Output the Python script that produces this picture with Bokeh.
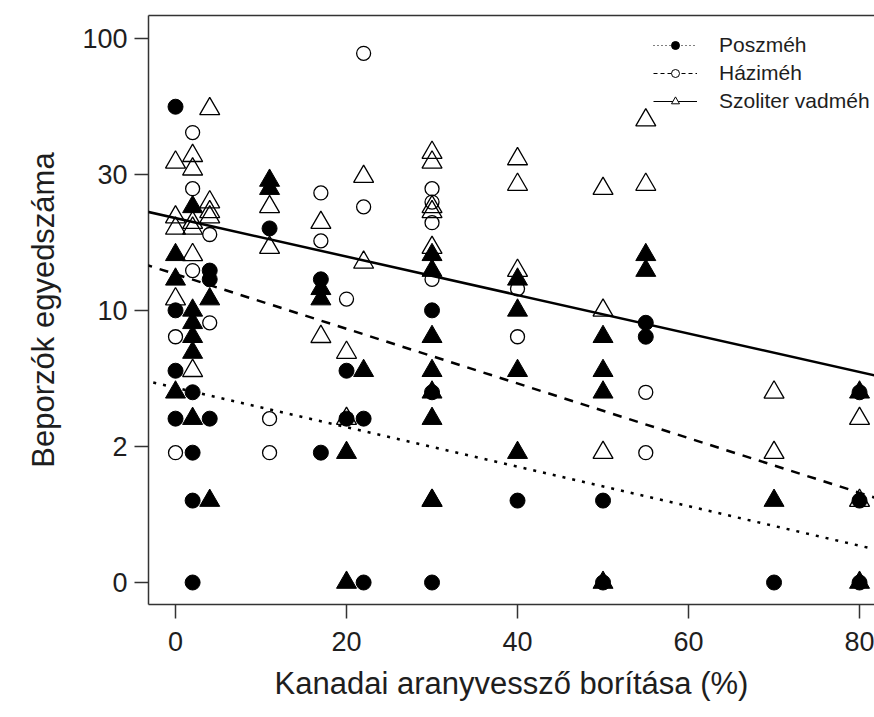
import math
from bokeh.plotting import figure
from bokeh.models import (Range1d, FixedTicker, LinearAxis, Legend, LegendItem,
                          Slope, Title)
from bokeh.embed import file_html
from bokeh.resources import INLINE

# ---------------- data ----------------
x_ticks = [0, 20, 40, 60, 80]
y_tick_pos = [0, 0.5, 1, 1.5, 2]          # position on log10(n+1) scale
y_tick_labels = ["0", "2", "10", "30", "100"]

# Poszméh (filled circles)
posz_x = [0, 0, 0, 0, 2, 2, 2, 2, 4, 4, 4, 11, 17, 17, 20, 20, 22, 22,
          30, 30, 30, 40, 50, 50, 55, 55, 70, 80, 80, 80]
posz_n = [55, 9, 5, 3, 4, 2, 1, 0, 13, 12, 3, 19, 12, 2, 5, 3, 3, 0,
          9, 4, 0, 1, 1, 0, 8, 7, 0, 4, 1, 0]

# Háziméh (open circles)
hazi_x = [0, 0, 2, 2, 2, 4, 4, 11, 11, 17, 17, 20, 22, 22,
          30, 30, 30, 30, 40, 40, 55, 55]
hazi_n = [7, 2, 44, 27, 13, 18, 8, 3, 2, 26, 17, 10, 87, 23,
          27, 24, 20, 12, 11, 7, 4, 2]

# Szoliter vadméh (open triangles)
szol_x = [0, 0, 0, 0, 2, 2, 2, 2, 2, 2, 4, 4, 4, 4, 11, 11, 17, 17,
          20, 20, 22, 22, 30, 30, 30, 30, 30, 30, 40, 40, 40,
          50, 50, 50, 55, 55, 70, 70, 80, 80]
szol_n = [34, 21, 19, 10, 36, 32, 20, 19, 15, 5, 54, 24, 22, 21, 23, 16, 20, 7,
          6, 3, 30, 14, 37, 34, 23, 22, 16, 1, 35, 28, 13,
          27, 9, 2, 49, 28, 4, 2, 3, 1]

# unlabelled group (filled triangles)
egyeb_x = [0, 0, 0, 2, 2, 2, 2, 2, 2, 4, 4, 11, 11, 17, 17, 20, 20, 22,
           30, 30, 30, 30, 30, 30, 30, 40, 40, 40, 40, 50, 50, 50, 50,
           55, 55, 70, 80, 80]
egyeb_n = [15, 12, 4, 23, 9, 8, 7, 6, 3, 10, 1, 29, 27, 11, 10, 2, 0, 5,
           15, 13, 7, 5, 4, 3, 1, 12, 9, 5, 2, 7, 5, 4, 0,
           15, 13, 1, 4, 0]

# fitted lines on the log10(n+1) scale: (intercept, slope)
posz_fit = (0.716, -0.00726)
hazi_fit = (1.133, -0.01004)
szol_fit = (1.339, -0.00707)

legend_labels = ["Poszméh", "Háziméh", "Szoliter vadméh"]


def tr(ns):
    return [math.log10(n + 1) for n in ns]


FONT = "Liberation Sans"
INK = "#1e1e1e"
NAN = [float("nan")]

p = figure(width=874, height=717, output_backend="svg", toolbar_location=None,
           x_range=Range1d(-3.16, 81.75), y_range=Range1d(-0.0808, 2.0834),
           min_border_left=148, min_border_right=0, min_border_top=15,
           min_border_bottom=113)
p.outline_line_color = None
p.xgrid.visible = False
p.ygrid.visible = False
p.background_fill_color = "white"
p.border_fill_color = "white"

for ax in (p.xaxis[0], p.yaxis[0]):
    ax.axis_line_width = 1.5
    ax.axis_line_color = "#333333"
    ax.major_tick_line_width = 1.5
    ax.major_tick_line_color = "#333333"
    ax.major_tick_out = 14
    ax.major_tick_in = 0
    ax.minor_tick_out = 0
    ax.minor_tick_in = 0
    ax.major_label_text_font = FONT
    ax.major_label_text_font_size = "27px"
    ax.major_label_text_color = INK

p.xaxis[0].ticker = FixedTicker(ticks=x_ticks)
p.xaxis[0].major_label_standoff = 13

p.yaxis[0].ticker = FixedTicker(ticks=y_tick_pos)
p.yaxis[0].major_label_overrides = {pos: lab for pos, lab in zip(y_tick_pos, y_tick_labels)}
p.yaxis[0].major_label_orientation = "horizontal"
p.yaxis[0].major_label_standoff = 7
p.yaxis[0].axis_label = "Beporzók egyedszáma"
p.yaxis[0].axis_label_text_font = FONT
p.yaxis[0].axis_label_text_font_size = "31px"
p.yaxis[0].axis_label_text_font_style = "normal"
p.yaxis[0].axis_label_text_color = INK
p.yaxis[0].axis_label_standoff = 18

# top frame line
top = LinearAxis(ticker=FixedTicker(ticks=[]), major_label_text_font_size="0px",
                 major_tick_out=0, major_tick_in=0, minor_tick_out=0, minor_tick_in=0,
                 axis_line_width=1.5, axis_line_color="#333333")
p.add_layout(top, "above")

xt = Title(text="Kanadai aranyvessző borítása (%)", align="center", offset=13,
           text_font=FONT, text_font_size="31px", text_font_style="normal",
           text_color=INK, standoff=21)
p.add_layout(xt, "below")

# points
p.scatter(posz_x, tr(posz_n), marker="circle", size=15, fill_color="black",
          line_color="black")
p.scatter(hazi_x, tr(hazi_n), marker="circle", size=14, fill_color=None,
          line_color="black", line_width=1.3)
p.scatter(szol_x, tr(szol_n), marker="triangle", size=20, fill_color=None,
          line_color="black", line_width=1.3)
p.scatter(egyeb_x, tr(egyeb_n), marker="triangle", size=20, fill_color="black",
          line_color="black")

# fitted lines
p.add_layout(Slope(gradient=posz_fit[1], y_intercept=posz_fit[0], line_color="black",
                   line_width=2.5, line_dash="3 7"))
p.add_layout(Slope(gradient=hazi_fit[1], y_intercept=hazi_fit[0], line_color="black",
                   line_width=2.5, line_dash="9 8"))
p.add_layout(Slope(gradient=szol_fit[1], y_intercept=szol_fit[0], line_color="black",
                   line_width=2.5))

# legend (renderers holding a single NaN point, so nothing shows in the plot)
l1 = p.line(NAN, NAN, line_color="black", line_width=1, line_dash="1 3")
m1 = p.scatter(NAN, NAN, marker="circle", size=8, fill_color="black", line_color="black")
l2 = p.line(NAN, NAN, line_color="black", line_width=1, line_dash="4 3")
m2 = p.scatter(NAN, NAN, marker="circle", size=9, fill_color="white", line_color="black")
l3 = p.line(NAN, NAN, line_color="black", line_width=1)
m3 = p.scatter(NAN, NAN, marker="triangle", size=13, fill_color="white", line_color="black")

legend = Legend(items=[LegendItem(label=legend_labels[0], renderers=[l1, m1]),
                       LegendItem(label=legend_labels[1], renderers=[l2, m2]),
                       LegendItem(label=legend_labels[2], renderers=[l3, m3])],
                location=(505, 491), padding=0, margin=0, spacing=4,
                glyph_width=44, glyph_height=20, label_height=20, label_standoff=22,
                label_text_font=FONT, label_text_font_size="21px", label_text_color=INK,
                border_line_color=None, background_fill_alpha=0)
p.add_layout(legend, "center")

open("out.html", "w").write(file_html(p, INLINE))
